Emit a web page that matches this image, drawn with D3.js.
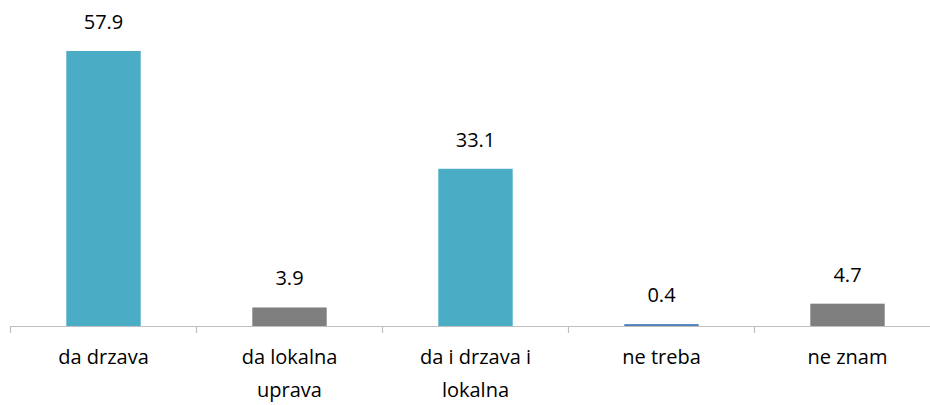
<!DOCTYPE html>
<html>
<head>
<meta charset="utf-8">
<script src="https://cdn.jsdelivr.net/npm/d3@7"></script>
<style>
  body { margin: 0; background: #fff; }
  text { font-family: "Open Sans", "Noto Sans", sans-serif; }
</style>
</head>
<body>
<div id="chart"></div>
<script>
const categories = ["da drzava", "da lokalna uprava", "da i drzava i lokalna", "ne treba", "ne znam"];
const values = [57.9, 3.9, 33.1, 0.4, 4.7];
const colors = ["#4BACC6", "#7F7F7F", "#4BACC6", "#4F81BD", "#7F7F7F"];

const w = 930, h = 405;
const axisY = 326;
const left = 10.5, band = 186;

const svg = d3.select("#chart").append("svg").attr("width", w).attr("height", h);

const x = d3.scaleBand()
    .domain(categories)
    .range([left, left + band * categories.length])
    .paddingInner(0)
    .paddingOuter(0);

const y = d3.scaleLinear().domain([0, 60]).range([axisY, 41]);

const barW = band * 0.4;

// bars
svg.selectAll("rect.bar")
    .data(categories)
    .enter()
    .append("rect")
    .attr("class", "bar")
    .attr("x", d => x(d) + (band - barW) / 2)
    .attr("y", (d, i) => y(values[i]))
    .attr("width", barW)
    .attr("height", (d, i) => axisY - y(values[i]))
    .style("fill", (d, i) => colors[i]);

// value labels
svg.selectAll("text.val")
    .data(categories)
    .enter()
    .append("text")
    .attr("class", "val")
    .text((d, i) => values[i].toFixed(1))
    .attr("x", d => x(d) + band / 2)
    .attr("y", (d, i) => y(values[i]) - 22)
    .attr("text-anchor", "middle")
    .style("font-size", "20px")
    .style("fill", "#000");

// axis line + ticks
svg.append("line")
    .attr("x1", left).attr("x2", w)
    .attr("y1", axisY + 0.5).attr("y2", axisY + 0.5)
    .style("stroke", "#BFBFBF").style("stroke-width", 1.2);

svg.selectAll("line.tick")
    .data(d3.range(categories.length + 1))
    .enter()
    .append("line")
    .attr("class", "tick")
    .attr("x1", i => left + i * band).attr("x2", i => left + i * band)
    .attr("y1", axisY).attr("y2", axisY + 7)
    .style("stroke", "#BFBFBF").style("stroke-width", 1.2);

// category labels, wrapped
function wrapLines(label, maxW) {
    const words = label.split(" ");
    const lines = [];
    let cur = "";
    const probe = svg.append("text").style("font-size", "20px");
    words.forEach(wd => {
        const test = cur ? cur + " " + wd : wd;
        probe.text(test);
        if (probe.node().getComputedTextLength() > maxW && cur) {
            lines.push(cur);
            cur = wd;
        } else {
            cur = test;
        }
    });
    lines.push(cur);
    probe.remove();
    return lines;
}

categories.forEach(c => {
    const lines = wrapLines(c, 150);
    const t = svg.append("text")
        .attr("text-anchor", "middle")
        .style("font-size", "20px")
        .style("fill", "#000");
    lines.forEach((ln, j) => {
        t.append("tspan")
            .attr("x", x(c) + band / 2)
            .attr("y", 364 + j * 33)
            .text(ln);
    });
});
</script>
</body>
</html>
